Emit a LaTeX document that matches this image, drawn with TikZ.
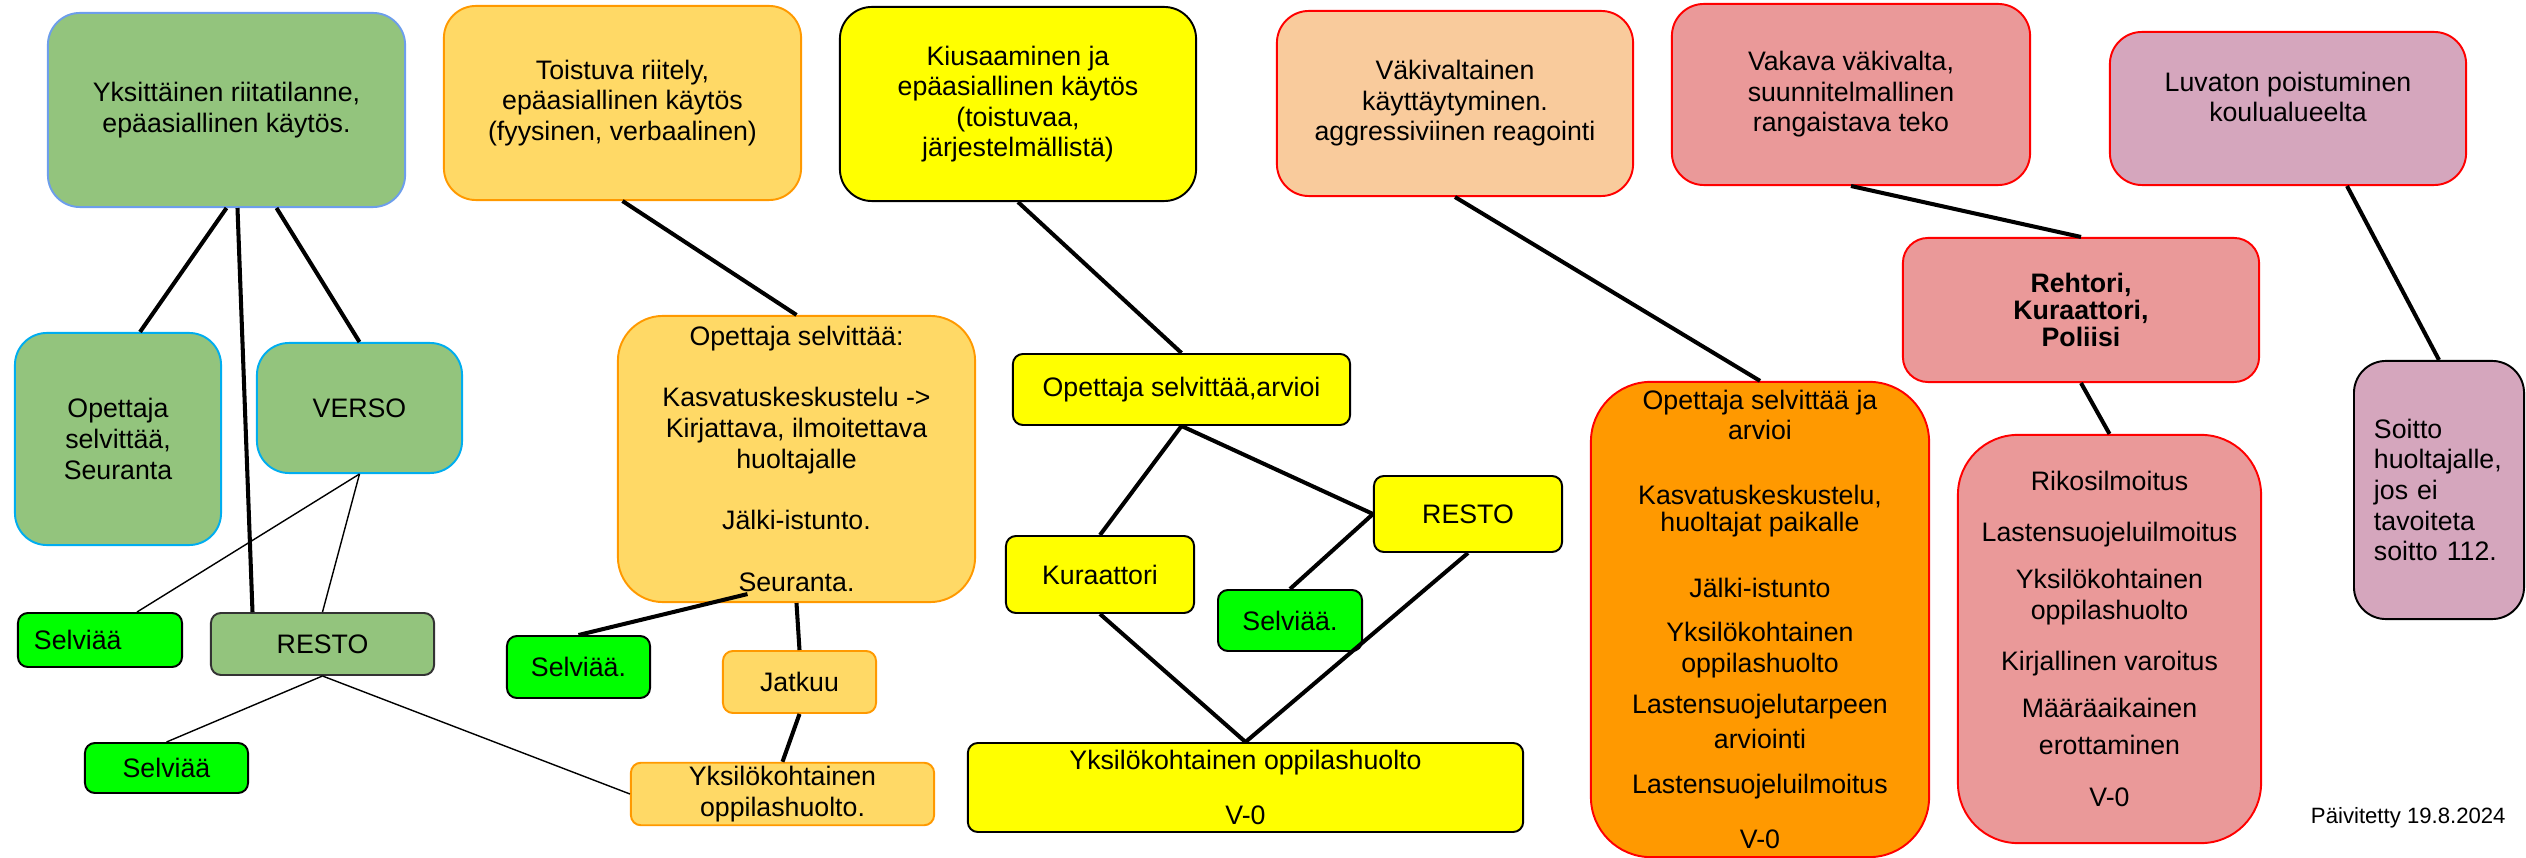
\documentclass[tikz,border=0pt]{standalone}
\usepackage{fontspec}
\setmainfont{Liberation Sans}
\usepackage{tikz}
\usetikzlibrary{calc}
\definecolor{vihrea}{HTML}{93C47D}
\definecolor{kirkasvihrea}{HTML}{00FF00}
\definecolor{vaaleaoranssi}{HTML}{FFD966}
\definecolor{keltainen}{HTML}{FFFF00}
\definecolor{persikka}{HTML}{F9CB9C}
\definecolor{oranssi}{HTML}{FF9900}
\definecolor{punainen}{HTML}{EA9999}
\definecolor{violetti}{HTML}{D5A6BD}
\definecolor{sininen}{HTML}{6D9EEB}

\begin{document}
\begin{tikzpicture}[x=0.01cm,y=-0.01cm]
	\tikzstyle{every node}=[font=\fontsize{7.6}{8.7}\selectfont]
	\tikzstyle{laatikko}=[draw, line width=0.55pt, align=center, inner sep=1pt]
	\tikzstyle{iso}=[laatikko, rounded corners=0.32cm]
	\tikzstyle{pieni}=[laatikko, rounded corners=0.1cm]
	\tikzstyle{paksu}=[line width=1.15pt]
	\tikzstyle{ohut}=[line width=0.4pt]
	\useasboundingbox (0,0) rectangle (2526,858);
	
	% vihrea haara
	\node[iso, fill=vihrea, draw=sininen, minimum width=3.57cm, minimum height=1.94cm] (yks) at (226.5,110) {Yksittäinen riitatilanne,\\epäasiallinen käytös.};
	\node[iso, fill=vihrea, draw=cyan, minimum width=2.06cm, minimum height=2.12cm] (opvs) at (118,439) {Opettaja\\selvittää,\\Seuranta};
	\node[iso, fill=vihrea, draw=cyan, minimum width=2.05cm, minimum height=1.30cm] (verso) at (359.5,408) {VERSO};
	\node[pieni, fill=kirkasvihrea, minimum height=0.54cm, align=left, text width=1.32cm, inner xsep=0.16cm] (selv1) at (100,640) {Selviää};
	\node[pieni, fill=vihrea, draw=black!80, minimum width=2.23cm, minimum height=0.62cm] (resto1) at (322.5,644) {RESTO};
	\node[pieni, fill=kirkasvihrea, minimum width=1.63cm, minimum height=0.5cm] (selv2) at (166.5,768) {Selviää};
	
	% oranssi haara
	\node[iso, fill=vaaleaoranssi, draw=oranssi, minimum width=3.57cm, minimum height=1.94cm] (riitely) at (622.5,103) {Toistuva riitely,\\epäasiallinen käytös\\(fyysinen, verbaalinen)};
	\node[iso, rounded corners=0.45cm, fill=vaaleaoranssi, draw=oranssi, minimum width=3.57cm, minimum height=2.86cm] (opsel) at (796.5,459) {Opettaja selvittää:\\[8.7pt]Kasvatuskeskustelu ->\\Kirjattava, ilmoitettava\\huoltajalle\\[8.7pt]Jälki-istunto.\\[9pt]Seuranta.};
	\node[pieni, fill=kirkasvihrea, minimum width=1.43cm, minimum height=0.62cm] (selv3) at (578.5,667) {Selviää.};
	\node[pieni, fill=vaaleaoranssi, draw=oranssi, minimum width=1.53cm, minimum height=0.62cm] (jatkuu) at (799.5,682) {Jatkuu};
	\node[pieni, fill=vaaleaoranssi, draw=oranssi, minimum width=3.03cm, minimum height=0.62cm] (yks1) at (782.5,794) {Yksilökohtainen\\oppilashuolto.};
	
	% keltainen haara
	\node[iso, fill=keltainen, minimum width=3.56cm, minimum height=1.94cm] (kius) at (1018,104) {Kiusaaminen ja\\epäasiallinen käytös\\(toistuvaa,\\järjestelmällistä)};
	\node[pieni, fill=keltainen, minimum width=3.37cm, minimum height=0.71cm] (arvioi) at (1181.5,389.5) {Opettaja selvittää,arvioi};
	\node[pieni, fill=keltainen, minimum width=1.88cm, minimum height=0.77cm] (kur) at (1100,574.5) {Kuraattori};
	\node[pieni, fill=keltainen, minimum width=1.88cm, minimum height=0.76cm] (resto2) at (1468,514) {RESTO};
	\node[pieni, fill=kirkasvihrea, minimum width=1.44cm, minimum height=0.61cm] (selv4) at (1290,620.5) {Selviää.};
	\node[pieni, fill=keltainen, minimum width=5.55cm, minimum height=0.89cm] (yks2) at (1245.5,787.5) {Yksilökohtainen oppilashuolto\\[7pt]V-0};
	
	% vakivalta
	\node[iso, fill=persikka, draw=red, minimum width=3.56cm, minimum height=1.85cm] (vakiv) at (1455,103.5) {Väkivaltainen\\käyttäytyminen.\\aggressiviinen reagointi};
	\node[iso, rounded corners=0.6cm, fill=oranssi, draw=red, minimum width=3.38cm, minimum height=4.75cm] (opsel2) at (1760,619.5) {Opettaja selvittää ja\\arvioi\\[9.8pt]Kasvatuskeskustelu,\\[-1pt]huoltajat paikalle\\[10pt]Jälki-istunto\\[3.8pt]Yksilökohtainen\\oppilashuolto\\[3pt]Lastensuojelutarpeen\\[1.3pt]arviointi\\[4.1pt]Lastensuojeluilmoitus\\[7pt]V-0};
	\node[iso, fill=punainen, draw=red, minimum width=3.58cm, minimum height=1.81cm] (vakava) at (1851,94.5) {Vakava väkivalta,\\suunnitelmallinen\\rangaistava teko};
	\node[iso, rounded corners=0.25cm, fill=punainen, draw=red, minimum width=3.56cm, minimum height=1.44cm, font=\bfseries\fontsize{7.6}{7.6}\selectfont] (rehtori) at (2081,310) {Rehtori,\\Kuraattori,\\Poliisi};
	\node[iso, rounded corners=0.6cm, fill=punainen, draw=red, minimum width=3.03cm, minimum height=4.08cm] (rikos) at (2109.5,639) {Rikosilmoitus\\[5.8pt]Lastensuojeluilmoitus\\[4.7pt]Yksilökohtainen\\oppilashuolto\\[5.8pt]Kirjallinen varoitus\\[4.7pt]Määräaikainen\\[2pt]erottaminen\\[6pt]V-0};
	
	% luvaton poistuminen
	\node[iso, fill=violetti, draw=red, minimum width=3.56cm, minimum height=1.53cm] (luvaton) at (2288,108.5) {Luvaton poistuminen\\koulualueelta\\[-2pt]~};
	\node[iso, fill=violetti, minimum height=2.58cm, align=left, text width=1.3cm, inner xsep=0.2cm] (soitto) at (2439,490) {Soitto\\huoltajalle,\\jos ei\\tavoiteta\\soitto 112.};
	
	\node[anchor=east, font=\fontsize{6.3}{7.5}\selectfont] (paiv) at (2518,818) {Päivitetty 19.8.2024};
	
	% viivat
	\draw[paksu] (yks.south) -- ($(opvs.north)+(22,0)$);
	\draw[paksu] ($(yks.south)+(11,0)$) -- ($(resto1.north)+(-70,0)$);
	\draw[paksu] ($(yks.south)+(50,0)$) -- (verso.north);
	\draw[ohut] (verso.south) -- ($(selv1.north)+(37,0)$);
	\draw[ohut] (verso.south) -- (resto1.north);
	\draw[ohut] (resto1.south) -- (selv2.north);
	\draw[ohut] (resto1.south) -- (yks1.west);
	
	\draw[paksu] (riitely.south) -- (opsel.north);
	\draw[paksu] ($(opsel.south)+(-49,-9)$) -- (selv3.north);
	\draw[paksu] (opsel.south) -- (jatkuu.north);
	\draw[paksu] (jatkuu.south) -- (yks1.north);
	
	\draw[paksu] (kius.south) -- (arvioi.north);
	\draw[paksu] (arvioi.south) -- (kur.north);
	\draw[paksu] (arvioi.south) -- (resto2.west);
	\draw[paksu] (resto2.west) -- (selv4.north);
	\draw[paksu] (kur.south) -- (yks2.north);
	\draw[paksu] (resto2.south) -- (yks2.north);
	
	\draw[paksu] (vakiv.south) -- (opsel2.north);
	\draw[paksu] (vakava.south) -- (rehtori.north);
	\draw[paksu] (rehtori.south) -- (rikos.north);
	\draw[paksu] ($(luvaton.south)+(59,0)$) -- (soitto.north);
	
\end{tikzpicture}
\end{document}
